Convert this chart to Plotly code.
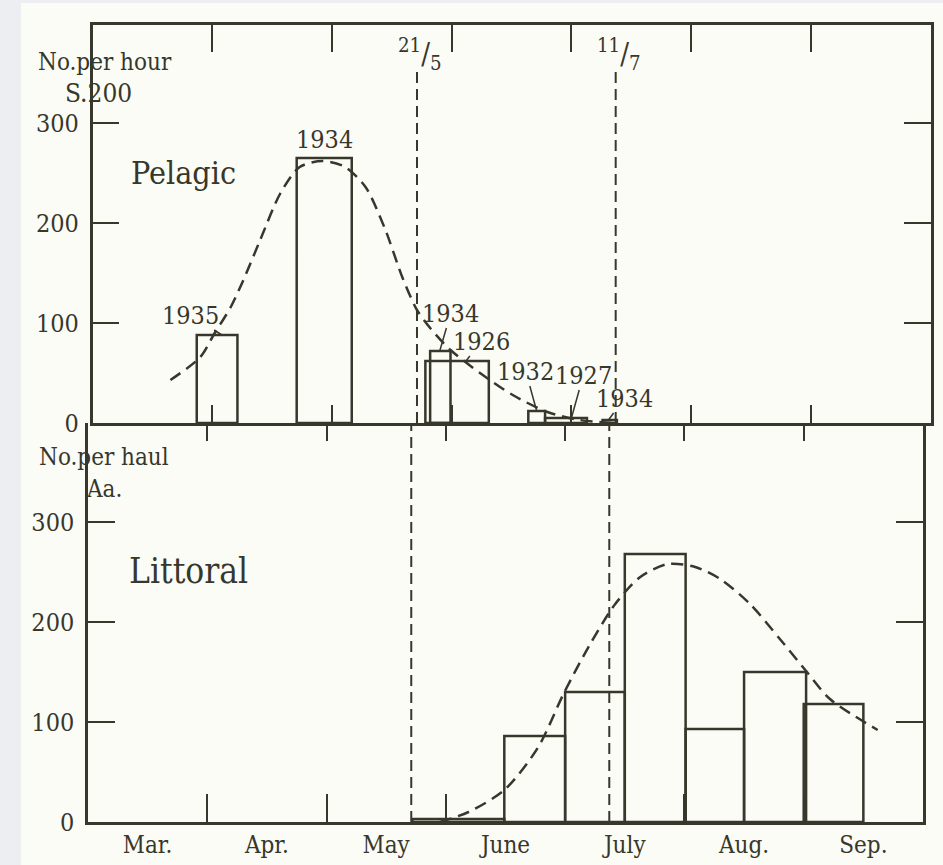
import plotly.graph_objects as go

# ---- data (x in months from 1 March; y = catch) ----
month_labels = ["Mar.", "Apr.", "May", "June", "July", "Aug.", "Sep."]
month_centres = [0.5, 1.5, 2.5, 3.5, 4.5, 5.5, 6.5]
month_bounds = [1, 2, 3, 4, 5, 6]

# Pelagic samples (No. per hour, S.200)
pel_years = ["1935", "1934", "1934", "1926", "1932", "1927", "1934"]
pel_left = [0.87, 1.705, 2.82, 2.78, 3.64, 3.78, 4.26]
pel_right = [1.21, 2.165, 2.99, 3.31, 3.78, 4.13, 4.38]
pel_values = [88, 265, 72, 62, 12, 5, 3]

pel_curve_x = [0.65, 0.90, 1.02, 1.15, 1.26, 1.40, 1.57, 1.73, 1.92, 2.11, 2.28,
               2.44, 2.59, 2.71, 2.82, 2.99, 3.26, 3.51, 3.80, 4.07, 4.35]
pel_curve_y = [43, 66, 90, 115, 143, 183, 230, 256, 262, 256, 236,
               195, 145, 113, 95, 73, 48, 28, 11, 3, 0]

# Littoral samples (No. per haul, Aa.)
lit_left = [2.72, 3.49, 4.0, 4.5, 5.01, 5.5, 6.0]
lit_right = [3.49, 4.0, 4.5, 5.01, 5.5, 6.02, 6.5]
lit_values = [3, 86, 130, 268, 93, 150, 118]

lit_curve_x = [2.95, 3.19, 3.49, 3.77, 3.99, 4.21, 4.42, 4.63, 4.86, 5.09,
               5.30, 5.55, 5.80, 6.02, 6.22, 6.62]
lit_curve_y = [0, 10, 32, 74, 129, 178, 218, 245, 258, 255,
               243, 218, 183, 151, 123, 92]

# reference dates (21 May, 11 July)
ref_dates = [2.71, 4.37]
ref_labels = ["<sup>21</sup>/<sub>5</sub>", "<sup>11</sup>/<sub>7</sub>"]

y_ticks = [0, 100, 200, 300]

# ---- styling ----
INK = "#37372b"
PAPER = "#fcfcf7"
PAGE = "#eceef1"
FONT = "DejaVu Serif Condensed, Liberation Serif, serif"

W, H = 943, 865
ML, MR, MT, MB = 88, 12, 25, 43
PW, PH = W - ML - MR, H - MT - MB


def px(x):
    return (x - ML) / PW


def py(y):
    return (H - MB - y) / PH


split = py(423)
top_dom = [px(92.6), px(930.5)]
bot_dom = [px(88), px(923)]

fig = go.Figure()

# histogram boxes
fig.add_trace(go.Bar(
    x=[(l + r) / 2 for l, r in zip(pel_left, pel_right)],
    y=pel_values,
    width=[r - l for l, r in zip(pel_left, pel_right)],
    marker=dict(color="rgba(0,0,0,0)", line=dict(color=INK, width=2.5)),
    xaxis="x", yaxis="y", hoverinfo="skip", showlegend=False))
fig.add_trace(go.Bar(
    x=[(l + r) / 2 for l, r in zip(lit_left, lit_right)],
    y=lit_values,
    width=[r - l for l, r in zip(lit_left, lit_right)],
    marker=dict(color="rgba(0,0,0,0)", line=dict(color=INK, width=2.5)),
    xaxis="x2", yaxis="y2", hoverinfo="skip", showlegend=False))

# fitted seasonal curves
fig.add_trace(go.Scatter(x=pel_curve_x, y=pel_curve_y, mode="lines",
                         line=dict(color=INK, width=2.5, dash="12px,7px", shape="spline", smoothing=0.8),
                         xaxis="x", yaxis="y", hoverinfo="skip", showlegend=False))
fig.add_trace(go.Scatter(x=lit_curve_x, y=lit_curve_y, mode="lines",
                         line=dict(color=INK, width=2.5, dash="12px,7px", shape="spline", smoothing=0.8),
                         xaxis="x2", yaxis="y2", hoverinfo="skip", showlegend=False))

# date markers through both panels
for d in ref_dates:
    fig.add_trace(go.Scatter(x=[d, d], y=[0, 354], mode="lines",
                             line=dict(color=INK, width=2, dash="11px,6px"),
                             xaxis="x", yaxis="y", hoverinfo="skip", showlegend=False))
    fig.add_trace(go.Scatter(x=[d, d], y=[0, 399], mode="lines",
                             line=dict(color=INK, width=2, dash="11px,6px"),
                             xaxis="x2", yaxis="y2", hoverinfo="skip", showlegend=False))

# invisible anchors so the frame axes (top edge, mid ticks, month labels) are drawn
for xa, ya in [("x3", "y"), ("x4", "y2"), ("x5", "y2")]:
    fig.add_trace(go.Scatter(x=[0], y=[0], mode="markers", marker=dict(opacity=0),
                             xaxis=xa, yaxis=ya, hoverinfo="skip", showlegend=False))

ann = []
tf = dict(family=FONT, color=INK)

for d, lab in zip(ref_dates, ref_labels):
    ann.append(dict(x=d, y=py(54), xref="x", yref="paper", text=lab,
                    xanchor="center", yanchor="middle",
                    showarrow=False, xshift=3, font=dict(tf, size=29)))

# year labels with leader lines (point = top of the box)
year_leaders = [  # index, x on box, text offset (px)
    (0, 1.08, -31, -20),
    (2, 2.90, 11, -38),
    (3, 3.12, 15, -20),
    (4, 3.71, -11, -40),
    (5, 4.00, 12, -43),
    (6, 4.31, 16, -22),
]
for i, xv, ax, ay in year_leaders:
    ann.append(dict(x=xv, y=pel_values[i], xref="x", yref="y", text=pel_years[i],
                    showarrow=True, arrowhead=0, arrowwidth=1.5, arrowcolor=INK,
                    ax=ax, ay=ay, standoff=0, startstandoff=0, borderpad=0,
                    font=dict(tf, size=25)))
ann.append(dict(x=(pel_left[1] + pel_right[1]) / 2, y=pel_values[1], xref="x", yref="y",
                text=pel_years[1], showarrow=False, yanchor="bottom", yshift=2,
                font=dict(tf, size=25)))

ann.append(dict(x=0.76, y=250, xref="x", yref="y", text="Pelagic",
                xanchor="center", yanchor="middle",
                showarrow=False, font=dict(tf, size=32)))
ann.append(dict(x=0.84, y=251, xref="x2", yref="y2", text="Littoral",
                xanchor="center", yanchor="middle",
                showarrow=False, font=dict(tf, size=35)))

side_titles = [("No.per hour", 104.5, 62, 24), ("S.200", 98.5, 93, 26),
               ("No.per haul", 104, 457, 24), ("Aa.", 104, 489, 24)]
for txt, cx, cy, fs in side_titles:
    ann.append(dict(x=px(cx), y=py(cy), xref="paper", yref="paper", text=txt,
                    xanchor="center", yanchor="middle",
                    showarrow=False, font=dict(tf, size=fs)))

axis_common = dict(showgrid=False, zeroline=False, showline=True, linecolor=INK,
                   linewidth=2.5, tickcolor=INK, tickwidth=2.2, fixedrange=True,
                   automargin=False)

fig.update_layout(
    width=W, height=H,
    margin=dict(l=ML, r=MR, t=MT, b=MB, pad=0, autoexpand=False),
    paper_bgcolor=PAGE, plot_bgcolor="rgba(0,0,0,0)",
    barmode="overlay",
    font=dict(family=FONT, color=INK, size=25),
    annotations=ann,
    shapes=[dict(type="rect", xref="paper", yref="paper", layer="below",
                 x0=px(21), x1=px(950), y0=py(870), y1=py(3),
                 fillcolor=PAPER, line=dict(width=0))],
    # top panel: shared middle line with short upward ticks
    xaxis=dict(axis_common, domain=top_dom, range=[0, 7], anchor="y", side="bottom",
               ticks="inside", ticklen=18, tickvals=month_bounds, showticklabels=False),
    # top edge of frame
    xaxis3=dict(axis_common, domain=top_dom, range=[0, 7], anchor="y", overlaying="x",
                side="top", ticks="inside", ticklen=27, tickvals=month_bounds,
                showticklabels=False),
    # bottom edge of frame
    xaxis2=dict(axis_common, domain=bot_dom, range=[0, 7], anchor="y2", side="bottom",
                ticks="inside", ticklen=28, tickvals=month_bounds, showticklabels=False),
    # short downward ticks on the middle line (line itself drawn by xaxis)
    xaxis4=dict(axis_common, domain=bot_dom, range=[0, 7], anchor="y2", overlaying="x2",
                side="top", showline=False, ticks="inside", ticklen=18,
                tickvals=month_bounds, showticklabels=False),
    # month names centred in each month
    xaxis5=dict(axis_common, domain=bot_dom, range=[0, 7], anchor="y2", overlaying="x2",
                side="bottom", showline=False, ticks="", tickvals=month_centres,
                ticktext=month_labels, ticklabelstandoff=6,
                tickfont=dict(family=FONT, color=INK, size=24)),
    yaxis=dict(axis_common, domain=[split, 1], range=[0, 398], anchor="x",
               ticks="inside", ticklen=27, mirror="ticks", tickvals=y_ticks,
               ticklabelstandoff=6, tickfont=dict(family=FONT, color=INK, size=25)),
    yaxis2=dict(axis_common, domain=[0, split], range=[0, 399], anchor="x2",
                ticks="inside", ticklen=27, mirror="ticks", tickvals=y_ticks,
                ticklabelstandoff=6, tickfont=dict(family=FONT, color=INK, size=25)),
)

fig.write_html("out.html")
